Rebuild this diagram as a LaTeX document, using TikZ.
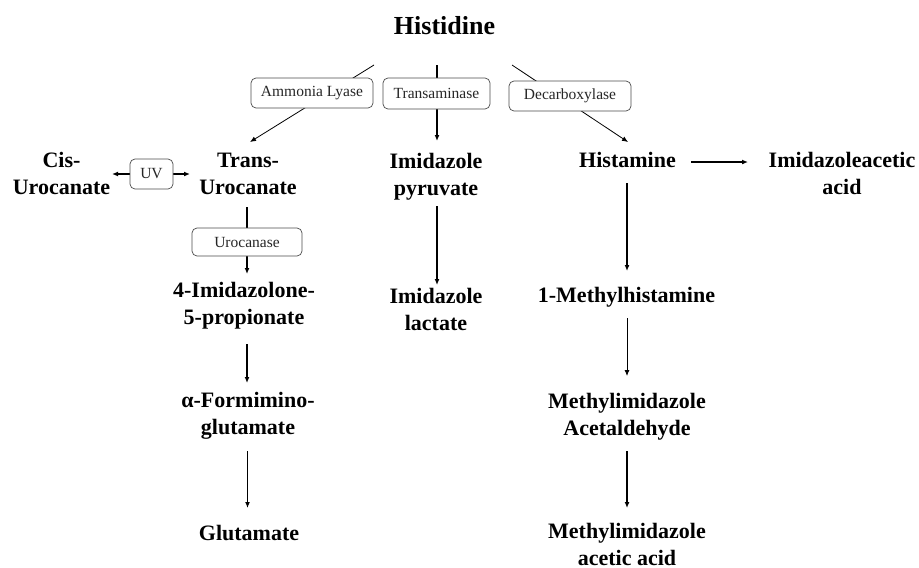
\documentclass[tikz,border=0pt]{standalone}
\usepackage{fontspec}
\setmainfont{Liberation Serif}
\usetikzlibrary{arrows.meta,calc}
\newcommand\twoline[2]{\begin{tabular}[t]{@{}c@{}}#1\\#2\end{tabular}}
\begin{document}
\begin{tikzpicture}[x=1pt,y=-1pt,
  lbl/.style={font=\bfseries\fontsize{22}{27}\selectfont, inner sep=0pt, anchor=base},
  title/.style={font=\bfseries\fontsize{26}{31}\selectfont, inner sep=0pt, anchor=base},
  ebox/.style={draw=black!70, rounded corners=5pt, fill=white, inner sep=0pt,
    font=\fontsize{15.5}{18}\selectfont, text=black!85, line width=0.7pt},
  arr/.style={-{Latex[length=6pt,width=5pt]}, line width=1.2pt},
  athin/.style={-{Latex[length=6pt,width=5pt]}, line width=0.8pt},
  dbl/.style={{Latex[length=6pt,width=5pt]}-{Latex[length=6pt,width=5pt]}, line width=1.2pt}]
\useasboundingbox (0,0) rectangle (919,568);
% compounds
\node[title] (his) at (444.5,34) {Histidine};
\node[lbl] (cis) at (61.5,167) {\twoline{Cis-}{Urocanate}};
\node[lbl] (trans) at (248,167) {\twoline{Trans-}{Urocanate}};
\node[lbl] (pyr) at (436,168) {\twoline{Imidazole}{pyruvate}};
\node[lbl] (hst) at (627.5,167) {Histamine};
\node[lbl] (iaa) at (842,167) {\twoline{Imidazoleacetic}{acid}};
\node[lbl] (imid) at (244,297) {\twoline{4-Imidazolone-}{5-propionate}};
\node[lbl] (lac) at (436,303) {\twoline{Imidazole}{lactate}};
\node[lbl] (mh) at (626.5,302) {1-Methylhistamine};
\node[lbl] (form) at (248,407) {\twoline{α-Formimino-}{glutamate}};
\node[lbl] (mac) at (627,408) {\twoline{Methylimidazole}{Acetaldehyde}};
\node[lbl] (glu) at (249,540) {Glutamate};
\node[lbl] (maa) at (627,538) {\twoline{Methylimidazole}{acetic acid}};
% connectors
\draw[athin] ($(his.base)+(-70.5,31)$) -- ($(trans.base)+(2,-25)$);
\draw[arr] ($(his.base)+(-7.5,31)$) -- ($(pyr.base)+(1,-27)$);
\draw[athin] ($(his.base)+(67.5,31)$) -- ($(hst.base)+(0.5,-25)$);
\draw[dbl] ($(cis.base)+(50.5,7)$) -- ($(trans.base)+(-58,7)$);
\draw[arr] ($(trans.base)+(-1,40)$) -- ($(imid.base)+(3,-23)$);
\draw[arr] ($(imid.base)+(3,47)$) -- ($(form.base)+(-1,-24)$);
\draw[arr] ($(form.base)+(-0.5,44)$) -- ($(glu.base)+(-1.5,-32)$);
\draw[arr] ($(pyr.base)+(1,38)$) -- ($(lac.base)+(1,-18)$);
\draw[arr] ($(hst.base)+(63.5,-5)$) -- ($(iaa.base)+(-94,-5)$);
\draw[arr] ($(hst.base)+(-0.5,16)$) -- ($(mh.base)+(0.5,-31)$);
\draw[athin] ($(mh.base)+(0.5,16)$) -- ($(mac.base)+(0,-32)$);
\draw[arr] ($(mac.base)+(0,43)$) -- ($(maa.base)+(0,-30)$);
% enzyme boxes
\node[ebox, minimum width=122pt, minimum height=30pt] (al) at (312,93) {Ammonia Lyase};
\node[ebox, minimum width=107pt, minimum height=31pt] (ta) at (436.5,93.5) {Transaminase};
\node[ebox, minimum width=122pt, minimum height=30pt] (dc) at (570,96) {Decarboxylase};
\node[ebox, minimum width=43pt, minimum height=30pt] (uv) at (151.5,174) {UV};
\node[ebox, minimum width=110pt, minimum height=28pt] (uro) at (247,242) {Urocanase};
\end{tikzpicture}
\end{document}
